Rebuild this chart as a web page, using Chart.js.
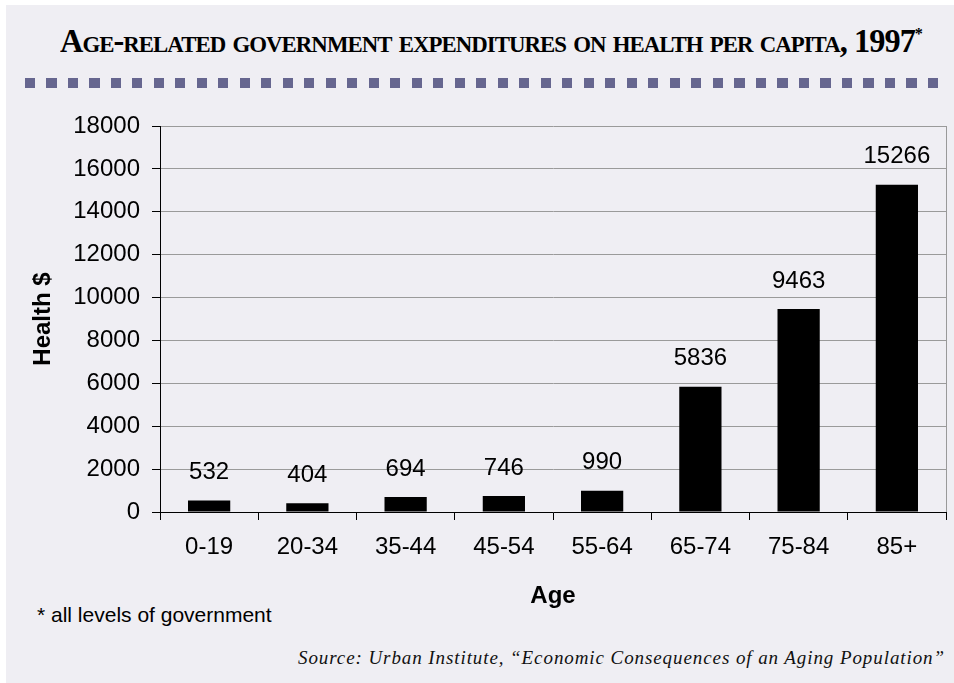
<!DOCTYPE html>
<html>
<head>
<meta charset="utf-8">
<script src="https://cdn.jsdelivr.net/npm/chart.js@4.4.1/dist/chart.umd.min.js"></script>
<style>
  body { margin: 0; background: #ffffff; }
  #wrap { position: relative; width: 954px; height: 683px; overflow: hidden; }
  #panel { position: absolute; left: 6px; top: 5px; right: 0; bottom: 0; background: #efeef3; }
  #title {
    position: absolute; left: 60px; top: 24px; white-space: nowrap;
    font-family: "Liberation Serif", "Times New Roman", serif; font-weight: bold;
    font-size: 34px; line-height: 34px; font-variant: small-caps; color: #000;
    letter-spacing: -1px; transform-origin: 0 0;
  }
  #title sup { font-size: 17px; line-height: 0; vertical-align: 13px; }
  #dots {
    position: absolute; left: 25px; top: 78px; width: 923px; height: 10px;
    background: repeating-linear-gradient(to right, #66668f 0, #66668f 10px, transparent 10px, transparent 21.5px);
  }
  #note {
    position: absolute; left: 37px; top: 604px; white-space: nowrap;
    font-family: "Liberation Sans", Arial, sans-serif; font-size: 21px; line-height: 21px; color: #000;
  }
  #source {
    position: absolute; right: 9px; top: 648px; white-space: nowrap;
    font-family: "Liberation Serif", "Times New Roman", serif; font-style: italic;
    font-size: 19px; line-height: 19px; color: #111;
  }
  canvas { position: absolute; left: 0; top: 0; }
</style>
</head>
<body>
<div id="wrap">
  <div id="panel"></div>
  <div id="title">Age-related government expenditures on health per capita, 1997<sup>*</sup></div>
  <div id="dots"></div>
  <div id="note">* all levels of government</div>
  <div id="source">Source: Urban Institute, “Economic Consequences of an Aging Population”</div>
  <canvas id="chart" width="954" height="683"></canvas>
</div>
<script>
// data
const ageGroups = ['0-19', '20-34', '35-44', '45-54', '55-64', '65-74', '75-84', '85+'];
const healthSpending = [532, 404, 694, 746, 990, 5836, 9463, 15266];
const yTicks = [0, 2000, 4000, 6000, 8000, 10000, 12000, 14000, 16000, 18000];

// fit title and source to the widths seen in the reference
const title = document.getElementById('title');
title.style.transform = 'scaleX(' + (862 / title.getBoundingClientRect().width) + ')';
const source = document.getElementById('source');
const srcText = source.textContent;
source.style.letterSpacing = ((647 - source.getBoundingClientRect().width) / srcText.length) + 'px';

const baseFont = { family: '"Liberation Sans", Arial, sans-serif', size: 24 };

// value labels above bars + right frame line
const valueLabels = {
    id: 'valueLabels',
    afterDatasetsDraw(chart) {
        const ctx = chart.ctx;
        const meta = chart.getDatasetMeta(0);
        ctx.save();
        ctx.font = '24px "Liberation Sans", Arial, sans-serif';
        ctx.fillStyle = '#000';
        ctx.textAlign = 'center';
        ctx.textBaseline = 'middle';
        meta.data.forEach((bar, i) => {
            ctx.fillText(String(healthSpending[i]), bar.x, bar.y - 28);
        });
        const area = chart.chartArea;
        ctx.strokeStyle = '#999';
        ctx.lineWidth = 1;
        ctx.beginPath();
        ctx.moveTo(area.right + 0.5, area.top);
        ctx.lineTo(area.right + 0.5, area.bottom);
        ctx.stroke();
        ctx.restore();
    }
};

new Chart(document.getElementById('chart').getContext('2d'), {
    type: 'bar',
    data: {
        labels: ageGroups,
        datasets: [{
            label: 'Health $',
            data: healthSpending,
            backgroundColor: '#000',
            borderWidth: 0,
            barPercentage: 0.43,
            categoryPercentage: 1
        }]
    },
    options: {
        responsive: false,
        animation: false,
        devicePixelRatio: 1,
        layout: { padding: { top: 126, right: 8, bottom: 0, left: 0 } },
        plugins: { legend: { display: false }, tooltip: { enabled: false } },
        scales: {
            x: {
                grid: { drawOnChartArea: false, tickColor: '#000', tickLength: 8, offset: true },
                border: { color: '#000', width: 1 },
                ticks: { font: baseFont, color: '#000', padding: 13, maxRotation: 0 },
                title: {
                    display: true, text: 'Age', color: '#000',
                    font: { family: baseFont.family, size: 24, weight: 'bold' },
                    padding: { top: 0, bottom: 72 }
                },
                afterFit(scale) { scale.height = 171; }
            },
            y: {
                min: 0,
                max: 18000,
                grid: { color: '#9a9a9a', tickColor: '#000', tickLength: 8 },
                border: { color: '#000', width: 1 },
                ticks: { font: baseFont, color: '#000', padding: 12, stepSize: 2000,
                    callback: (v) => yTicks.includes(v) ? String(v) : '' },
                title: {
                    display: true, text: 'Health $', color: '#000',
                    font: { family: baseFont.family, size: 24, weight: 'bold' },
                    padding: { top: 29, bottom: 0 }
                },
                afterFit(scale) { scale.width = 160; }
            }
        }
    },
    plugins: [valueLabels]
});
</script>
</body>
</html>
